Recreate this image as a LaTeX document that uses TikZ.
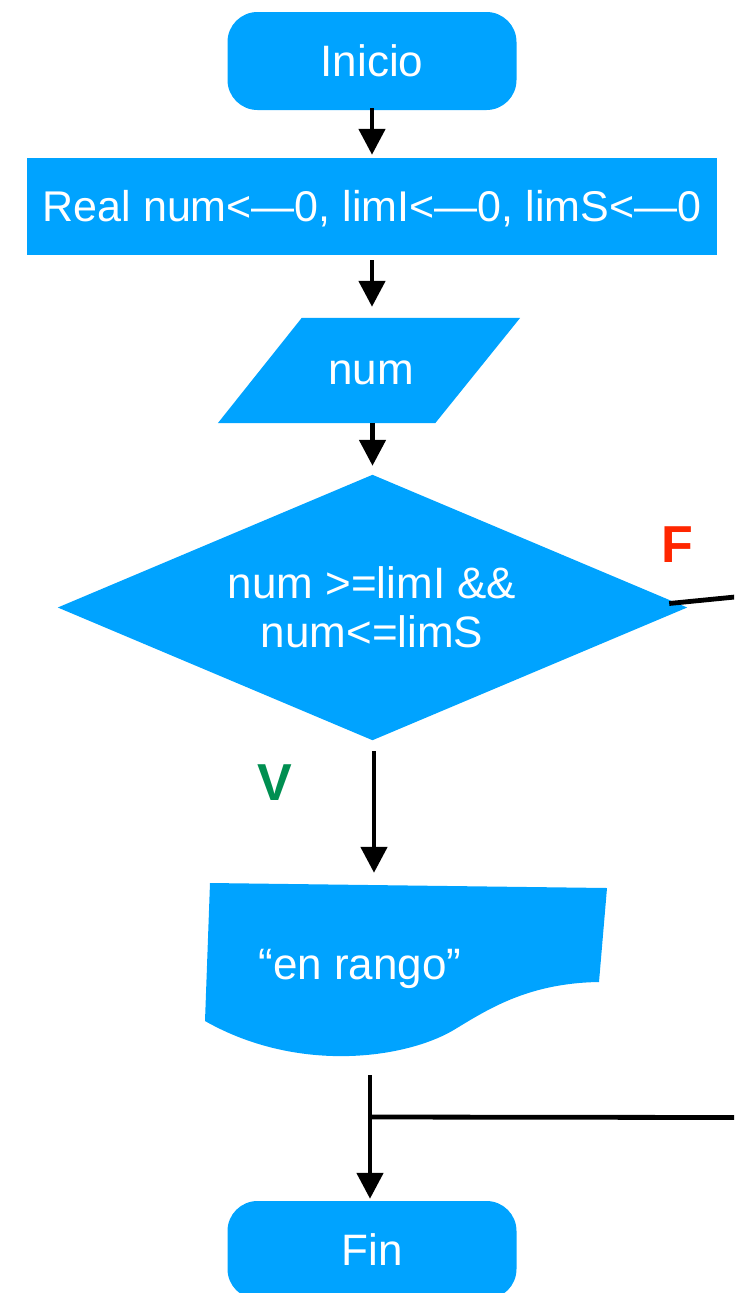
\documentclass[tikz,border=0pt]{standalone}
\usepackage{fontspec}
\setmainfont{Liberation Sans}
\usetikzlibrary{arrows.meta}
\definecolor{fcblue}{RGB}{0,163,255}
\definecolor{fred}{RGB}{255,38,0}
\definecolor{vgreen}{RGB}{0,143,81}
\begin{document}
\begin{tikzpicture}[x=1pt,y=-1pt,
  txt/.style={text=white,font=\fontsize{44}{49}\selectfont,inner sep=0pt,align=center},
  term/.style={txt,fill=fcblue,rounded corners=30pt,minimum width=289pt,minimum height=98pt},
  procbox/.style={txt,fill=fcblue,minimum width=690pt,minimum height=97pt},
  ghost/.style={inner sep=0pt},
  arr/.style={line width=4.8pt,-{Triangle[length=26pt,width=26pt]}},
  conn/.style={line width=4.8pt},
  lab/.style={font=\fontsize{52}{52}\selectfont\bfseries,inner sep=0pt}]
\useasboundingbox (0,0) rectangle (734,1293);
\clip (0,0) rectangle (734,1293);

% nodes
\node[term] (ini) at (372,61) {Inicio};
\node[procbox] (proc) at (372,206.5) {};
\node[txt,font=\fontsize{43}{49}\selectfont] (proct) at (372,209) {Real num<—0, limI<—0, limS<—0};
\node[ghost,minimum width=302pt,minimum height=105pt] (numbox) at (369,370.5) {};
\fill[fcblue] (numbox.south west) -- ([xshift=-85pt]numbox.south east)
  -- (numbox.north east) -- ([xshift=84pt]numbox.north west) -- cycle;
\node[txt] (num) at (371,373) {num};
\node[ghost,minimum width=629pt,minimum height=265pt] (dec) at (372.5,607.5) {};
\fill[fcblue] (dec.north) -- (dec.east) -- (dec.south) -- (dec.west) -- cycle;
\node[txt] (dect) at (372,607) {num >=limI \&\&\\num<=limS};
\node[ghost,minimum width=402pt,minimum height=174pt] (doc) at (406,970) {};
\fill[fcblue] (210,883) -- (607,888) -- (599,982)
  .. controls (530,983) and (490,1008) .. (457,1028)
  .. controls (410,1058) and (300,1075) .. (205,1021) -- cycle;
\node[txt] (doct) at (360,969) {“en rango”};
\node[term] (fin) at (372,1250) {Fin};

\node[lab,text=fred] (flab) at (677,545) {F};
\node[lab,text=vgreen] (vlab) at (275,783) {V};

\coordinate (fout) at (740,596.5);
\coordinate (dstart) at (370,1075);
\coordinate (j) at (370,1117);
\coordinate (jout) at (740,1117.5);

% connectors
\draw[arr] ([yshift=2pt]ini.south) -- ([yshift=3pt]ini.south |- proc.north);
\draw[arr] ([yshift=-5pt]proc.south) -- ([yshift=11pt]proc.south |- numbox.north);
\draw[arr] (numbox.south -| dec.north) -- ([yshift=9pt]dec.north);
\draw[conn] ([xshift=-18pt,yshift=4pt]dec.east) -- (fout);
\draw[arr] ([xshift=1.5pt,yshift=-11pt]dec.south) -- ([xshift=1.5pt,yshift=10pt]dec.south |- doc.north);
\draw[arr,shorten >=2pt] (dstart) -- (dstart |- fin.north);
\draw[conn] (j) -- (jout);
\end{tikzpicture}
\end{document}
